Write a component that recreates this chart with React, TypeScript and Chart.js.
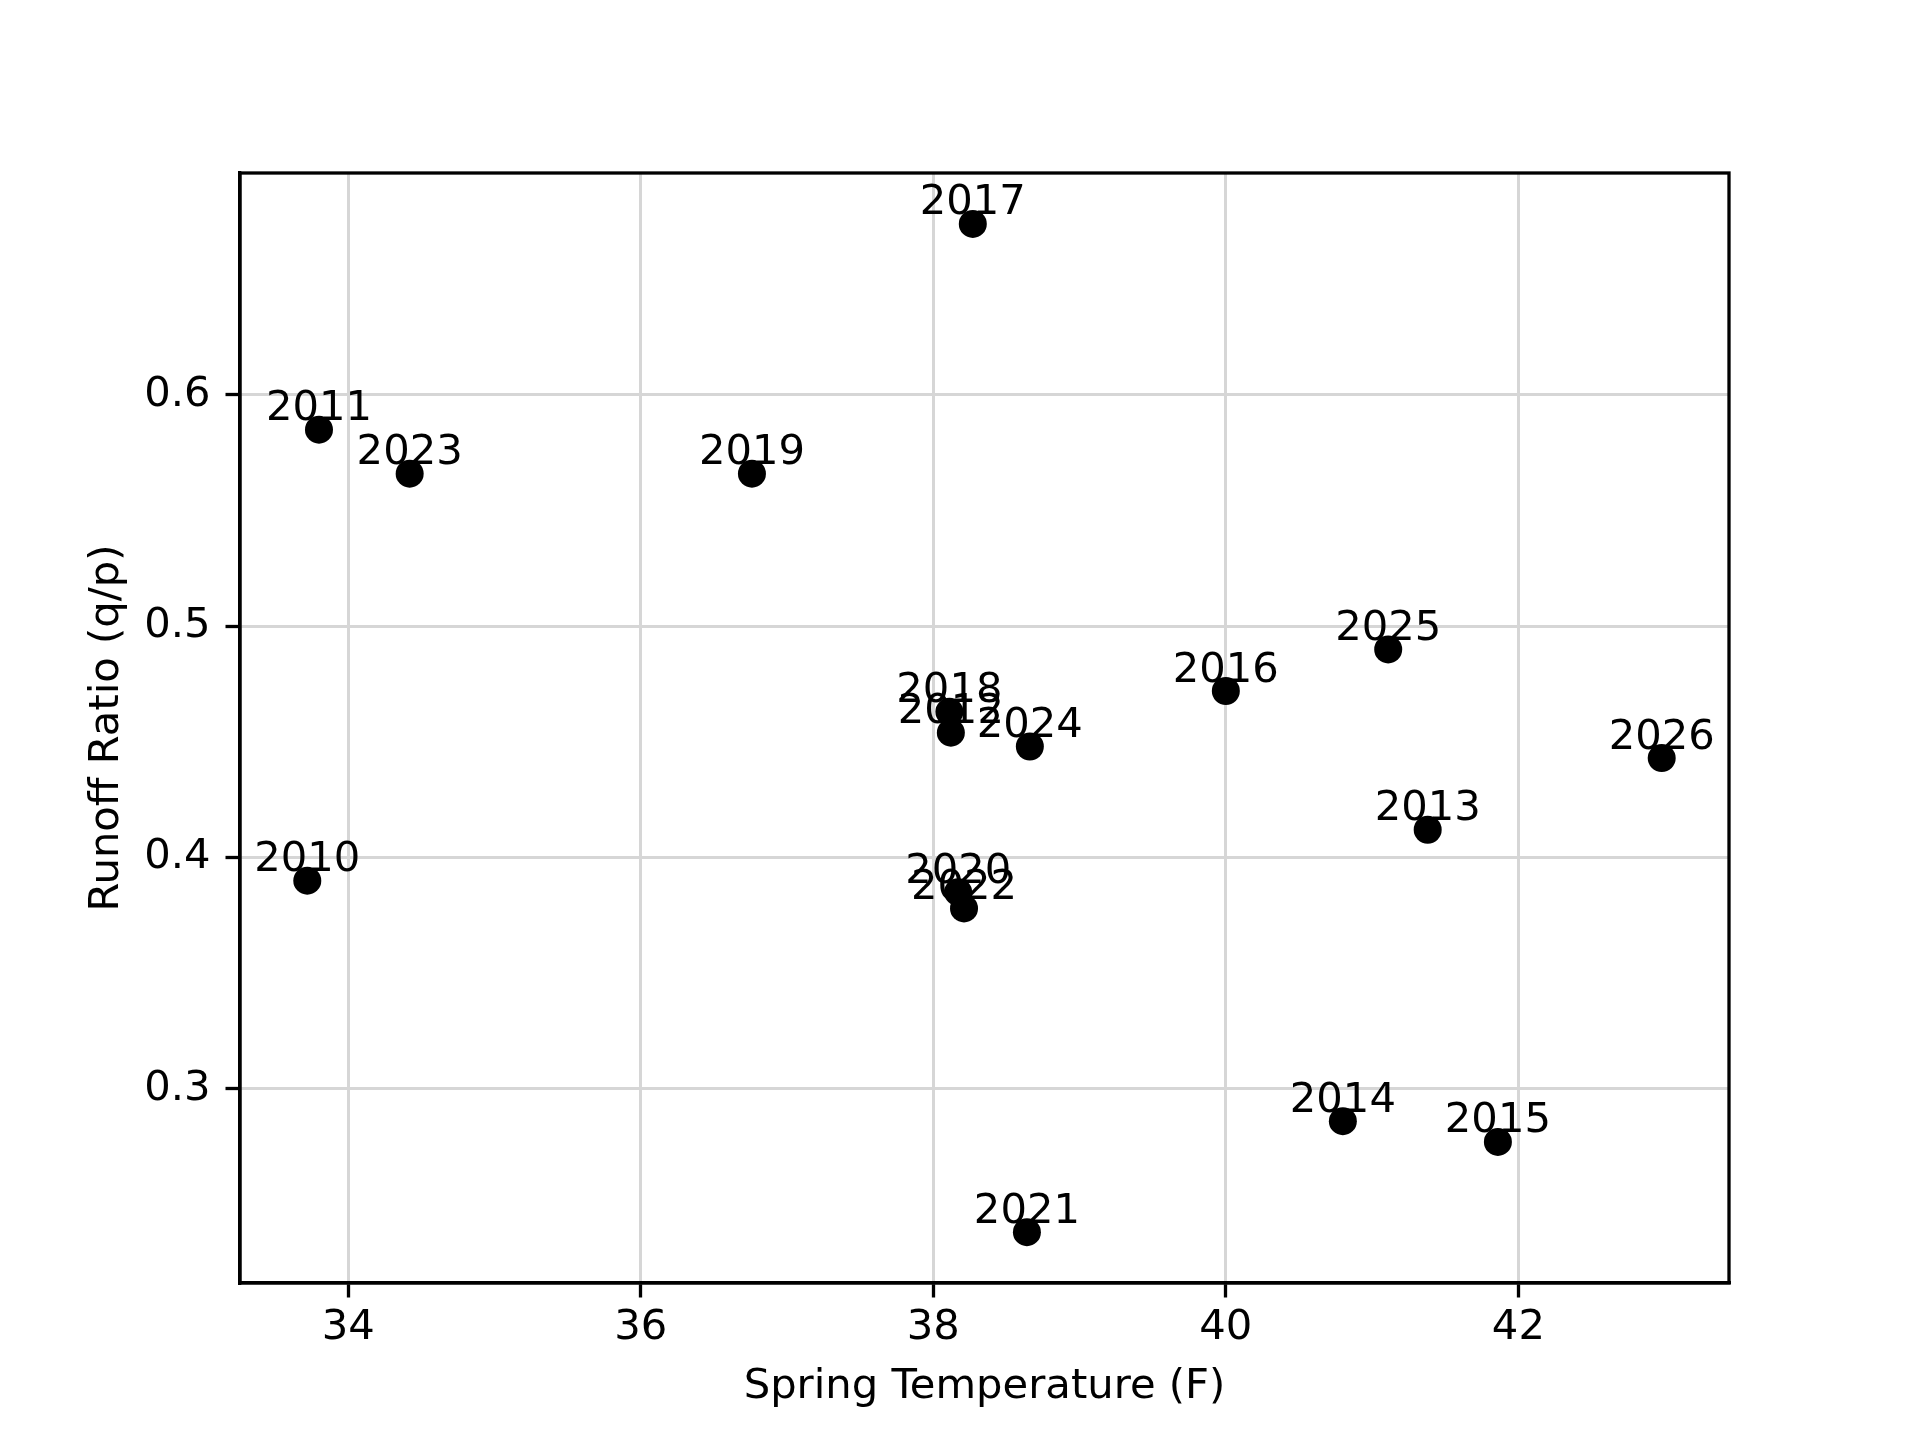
import React, { useEffect, useRef } from "react";
import { Chart, registerables } from "chart.js";

Chart.register(...registerables);

const years = ["2010", "2011", "2012", "2013", "2014", "2015", "2016", "2017", "2018", "2019", "2020", "2021", "2022", "2023", "2024", "2025", "2026"];
const springTemps = [33.72, 33.8, 38.12, 41.38, 40.8, 41.86, 40.0, 38.27, 38.11, 36.76, 38.17, 38.64, 38.21, 34.42, 38.66, 41.11, 42.98];
const runoffRatios = [0.39, 0.585, 0.454, 0.412, 0.286, 0.277, 0.472, 0.674, 0.463, 0.566, 0.385, 0.238, 0.378, 0.566, 0.448, 0.49, 0.443];
const xTicks = [34, 36, 38, 40, 42];
const yTicks = [0.3, 0.4, 0.5, 0.6];

const FONT = "'DejaVu Sans', sans-serif";
const FS = 41.7;

const framePlugin = {
  id: "frame",
  afterDraw(chart: any) {
    const { ctx, chartArea } = chart;
    ctx.save();
    ctx.strokeStyle = "#000";
    ctx.lineWidth = 3.3;
    ctx.strokeRect(chartArea.left, chartArea.top, chartArea.right - chartArea.left, chartArea.bottom - chartArea.top);
    ctx.restore();
  },
};

const labelPlugin = {
  id: "pointLabels",
  afterDatasetsDraw(chart: any) {
    const { ctx } = chart;
    const xs = chart.scales.x;
    const ys = chart.scales.y;
    ctx.save();
    ctx.fillStyle = "#000";
    ctx.font = `${FS}px ${FONT}`;
    ctx.textAlign = "center";
    ctx.textBaseline = "alphabetic";
    years.forEach((yr, i) => {
      const px = xs.getPixelForValue(springTemps[i]);
      const py = ys.getPixelForValue(runoffRatios[i]);
      ctx.fillText(yr, px, py - 9.5);
    });
    ctx.restore();
  },
};

export default function App() {
  const ref = useRef<HTMLCanvasElement | null>(null);
  useEffect(() => {
    document.body.style.margin = "0";
    const canvas = ref.current;
    if (!canvas) return;
    const chart = new Chart(canvas, {
      type: "scatter",
      data: {
        datasets: [
          {
            data: springTemps.map((t, i) => ({ x: t, y: runoffRatios[i] })),
            backgroundColor: "#000",
            borderWidth: 0,
            pointRadius: 14,
            pointHoverRadius: 14,
          },
        ],
      },
      options: {
        animation: false,
        responsive: false,
        devicePixelRatio: 1,
        events: [],
        layout: { padding: { left: 0, top: 173, right: 191, bottom: 0 } },
        plugins: { legend: { display: false }, tooltip: { enabled: false } },
        scales: {
          x: {
            type: "linear",
            min: 33.26,
            max: 43.44,
            afterBuildTicks: (s: any) => {
              s.ticks = xTicks.map((v) => ({ value: v }));
            },
            afterFit: (s: any) => {
              s.height = 157;
            },
            ticks: {
              color: "#000",
              font: { family: FONT, size: FS },
              padding: 6,
              maxRotation: 0,
              autoSkip: false,
              callback: (v: any) => String(v),
            },
            grid: {
              color: "#d6d6d6",
              lineWidth: 3,
              tickColor: "#000",
              tickWidth: 3.3,
              tickLength: 14.5,
            },
            border: { display: true, color: "#000", width: 3.3 },
            title: {
              display: true,
              text: "Spring Temperature (F)",
              color: "#000",
              font: { family: FONT, size: FS },
              padding: { top: 0, bottom: 28 },
            },
          },
          y: {
            type: "linear",
            min: 0.216,
            max: 0.696,
            afterBuildTicks: (s: any) => {
              s.ticks = yTicks.map((v) => ({ value: v }));
            },
            afterFit: (s: any) => {
              s.width = 240;
            },
            ticks: {
              color: "#000",
              font: { family: FONT, size: FS },
              padding: 15,
              autoSkip: false,
              callback: (v: any) => Number(v).toFixed(1),
            },
            grid: {
              color: "#d6d6d6",
              lineWidth: 3,
              tickColor: "#000",
              tickWidth: 3.3,
              tickLength: 14.5,
            },
            border: { display: true, color: "#000", width: 3.3 },
            title: {
              display: true,
              text: "Runoff Ratio (q/p)",
              color: "#000",
              font: { family: FONT, size: FS },
              padding: { top: 82, bottom: 0 },
            },
          },
        },
      },
      plugins: [labelPlugin, framePlugin],
    });
    return () => chart.destroy();
  }, []);
  return (
    <div style={{ position: "absolute", left: 0, top: 0, width: 1920, height: 1440, background: "#fff" }}>
      <canvas ref={ref} width={1920} height={1440} style={{ width: 1920, height: 1440, display: "block" }} />
    </div>
  );
}
